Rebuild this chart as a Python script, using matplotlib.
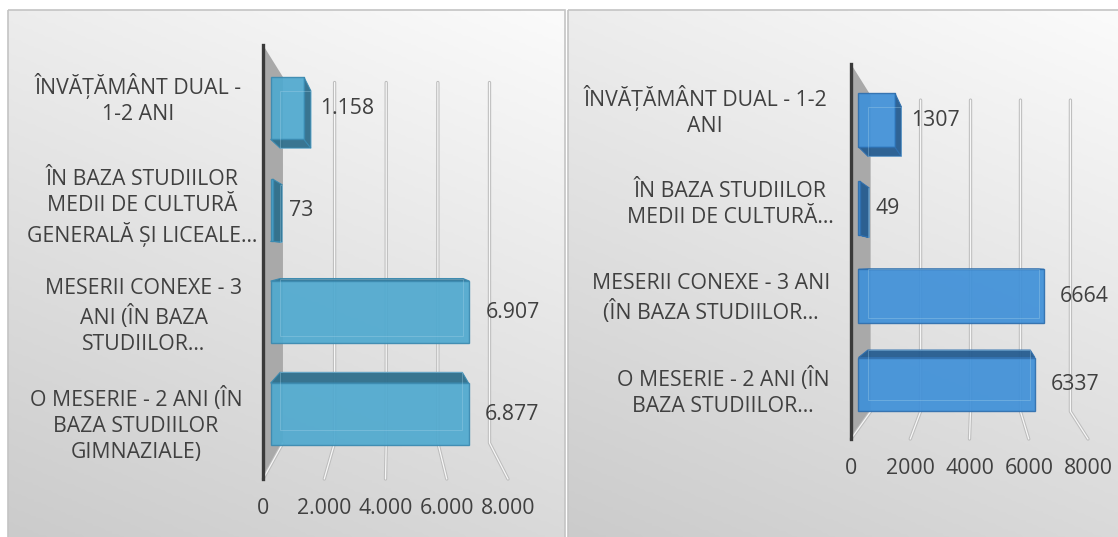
import numpy as np
import matplotlib.pyplot as plt
import matplotlib.transforms as mtransforms
from matplotlib.patches import Polygon, Rectangle
from matplotlib.colors import LinearSegmentedColormap

plt.rcParams['font.family'] = ['Open Sans', 'DejaVu Sans']

# ---- data ----
left_categories = ['ÎNVĂȚĂMÂNT DUAL -\n1-2 ANI',
                   'ÎN BAZA STUDIILOR\nMEDII DE CULTURĂ\nGENERALĂ ȘI LICEALE…',
                   'MESERII CONEXE - 3\nANI (ÎN BAZA\nSTUDIILOR…',
                   'O MESERIE - 2 ANI (ÎN\nBAZA STUDIILOR\nGIMNAZIALE)']
left_values = [1158, 73, 6907, 6877]

right_categories = ['ÎNVĂȚĂMÂNT DUAL - 1-2\nANI',
                    'ÎN BAZA STUDIILOR\nMEDII DE CULTURĂ…',
                    'MESERII CONEXE - 3 ANI\n(ÎN BAZA STUDIILOR…',
                    'O MESERIE - 2 ANI (ÎN\nBAZA STUDIILOR…']
right_values = [1307, 49, 6664, 6337]

ticks = [0, 2000, 4000, 6000, 8000]
left_tick_labels = ['0', '2.000', '4.000', '6.000', '8.000']
right_tick_labels = ['0', '2000', '4000', '6000', '8000']

W, H = 1118, 537
TEXT = '#404040'
FS = 15.3

fig = plt.figure(figsize=(W / 100, H / 100), dpi=100)

# background axes in pixel units (y down)
bg = fig.add_axes([0, 0, 1, 1])
bg.set_xlim(0, W)
bg.set_ylim(H, 0)
bg.axis('off')

grad_cmap = LinearSegmentedColormap.from_list('bg', ['#fbfbfb', '#cbcbcb'])


def panel(x0, y0, x1, y1):
    xs = np.linspace(0, 1, 200)
    ys = np.linspace(0, 1, 200)
    gx, gy = np.meshgrid(xs, ys)
    g = 0.7 * gy + 0.3 * (1 - gx)
    bg.imshow(g, cmap=grad_cmap, extent=(x0, x1, y1, y0), aspect='auto',
              vmin=0, vmax=1, zorder=0, interpolation='bilinear')
    bg.add_patch(Rectangle((x0, y0), x1 - x0, y1 - y0, fill=False,
                           ec='#c4c4c4', lw=1.2, zorder=1))


panel(8, 10, 565, 540)
panel(568, 10, 1121, 540)


def draw_chart(box, vp, label_x, categories, values, tick_labels, val_fmt,
               front_col, dark_col, edge_col):
    x0, y0, x1, y1 = box
    ax = fig.add_axes([x0 / W, 1 - y1 / H, (x1 - x0) / W, (y1 - y0) / H])
    ax.set_xlim(ticks[0], ticks[-1])
    ax.set_ylim(len(values) - 0.5, -0.5)
    ax.axis('off')
    ax.patch.set_visible(False)

    xv, yv = vp
    kw, kf, kb = 0.843, 0.94, 0.865   # depth of wall, bar front, bar back

    def P(v, c, k):
        return (xv + (v - xv) * k, yv + (c - yv) * k)

    top, bot = -0.5, len(values) - 0.5

    # side wall
    ax.add_patch(Polygon([P(0, top, 1), P(0, top, kw), P(0, bot, kw), P(0, bot, 1)],
                         closed=True, fc='#a9a9a9', ec='none', zorder=1, clip_on=False))

    # gridlines on back wall + floor
    for t in ticks:
        pts = [P(t, bot, 1), P(t, bot, kw)]
        if t != 0:
            pts.append(P(t, top + 0.06, kw))
        xs, ys = zip(*pts)
        ax.plot(xs, ys, color='#bdbdbd', lw=2.4, solid_capstyle='round', zorder=2, clip_on=False)
        ax.plot(xs, ys, color='#f7f7f7', lw=0.9, solid_capstyle='round', zorder=2.1, clip_on=False)

    # axis line
    ax.plot([0, 0], [top, bot], color='#3a3a3a', lw=2.4, zorder=6, clip_on=False)

    # bars
    h = 0.61
    for i, v in enumerate(values):
        c0, c1 = i - h / 2, i + h / 2
        if i < yv:
            face = [P(0, c1, kf), P(v, c1, kf), P(v, c1, kb), P(0, c1, kb)]
        else:
            face = [P(0, c0, kf), P(v, c0, kf), P(v, c0, kb), P(0, c0, kb)]
        ax.add_patch(Polygon(face, closed=True, fc=dark_col, ec=edge_col, lw=0.8,
                             alpha=0.95, zorder=3, clip_on=False))
        if v < xv:
            end = [P(v, c0, kf), P(v, c1, kf), P(v, c1, kb), P(v, c0, kb)]
            ax.add_patch(Polygon(end, closed=True, fc=dark_col, ec=edge_col, lw=0.8,
                                 alpha=0.95, zorder=3, clip_on=False))
        back = [P(0, c0, kb), P(v, c0, kb), P(v, c1, kb), P(0, c1, kb)]
        ax.add_patch(Polygon(back, closed=True, fill=False, ec='#a8d4ea', lw=0.7,
                             alpha=0.35, zorder=4.5, clip_on=False))
        front = [P(0, c0, kf), P(v, c0, kf), P(v, c1, kf), P(0, c1, kf)]
        ax.add_patch(Polygon(front, closed=True, fc=front_col, ec=edge_col, lw=1.0,
                             alpha=0.92, zorder=4, clip_on=False))

        lx, ly = P(v, i, kf)
        tr = mtransforms.offset_copy(ax.transData, fig, x=16, y=0, units='dots')
        ax.text(lx, ly, val_fmt(v), transform=tr, ha='left', va='center',
                fontsize=FS, color=TEXT, zorder=7, clip_on=False)

    # value axis tick labels under the front floor edge
    tr = mtransforms.offset_copy(ax.transData, fig, x=0, y=-30, units='dots')
    for t, lab in zip(ticks, tick_labels):
        ax.text(t, bot, lab, transform=tr, ha='center', va='center',
                fontsize=FS, color=TEXT, clip_on=False)

    # category labels
    blend = mtransforms.blended_transform_factory(bg.transData, ax.transData)
    for i, (cat, lx) in enumerate(zip(categories, label_x)):
        ax.text(lx, i, cat, transform=blend, ha='center', va='center',
                multialignment='center', fontsize=FS, color=TEXT,
                linespacing=1.3, clip_on=False)
    return ax


draw_chart((263, 45, 508, 479), (4150, 1.38), [138, 142, 144, 136],
           left_categories, left_values, left_tick_labels,
           lambda v: f'{v:,}'.replace(',', '.'),
           '#4fa9cf', '#2f6f8c', '#3b8ab0')

draw_chart((851, 64, 1088, 439), (4219, 1.63), [705, 730, 711, 723],
           right_categories, right_values, right_tick_labels,
           lambda v: f'{v}',
           '#3f90d8', '#255c90', '#2f6fae')

fig.savefig('out.png', dpi=100)
